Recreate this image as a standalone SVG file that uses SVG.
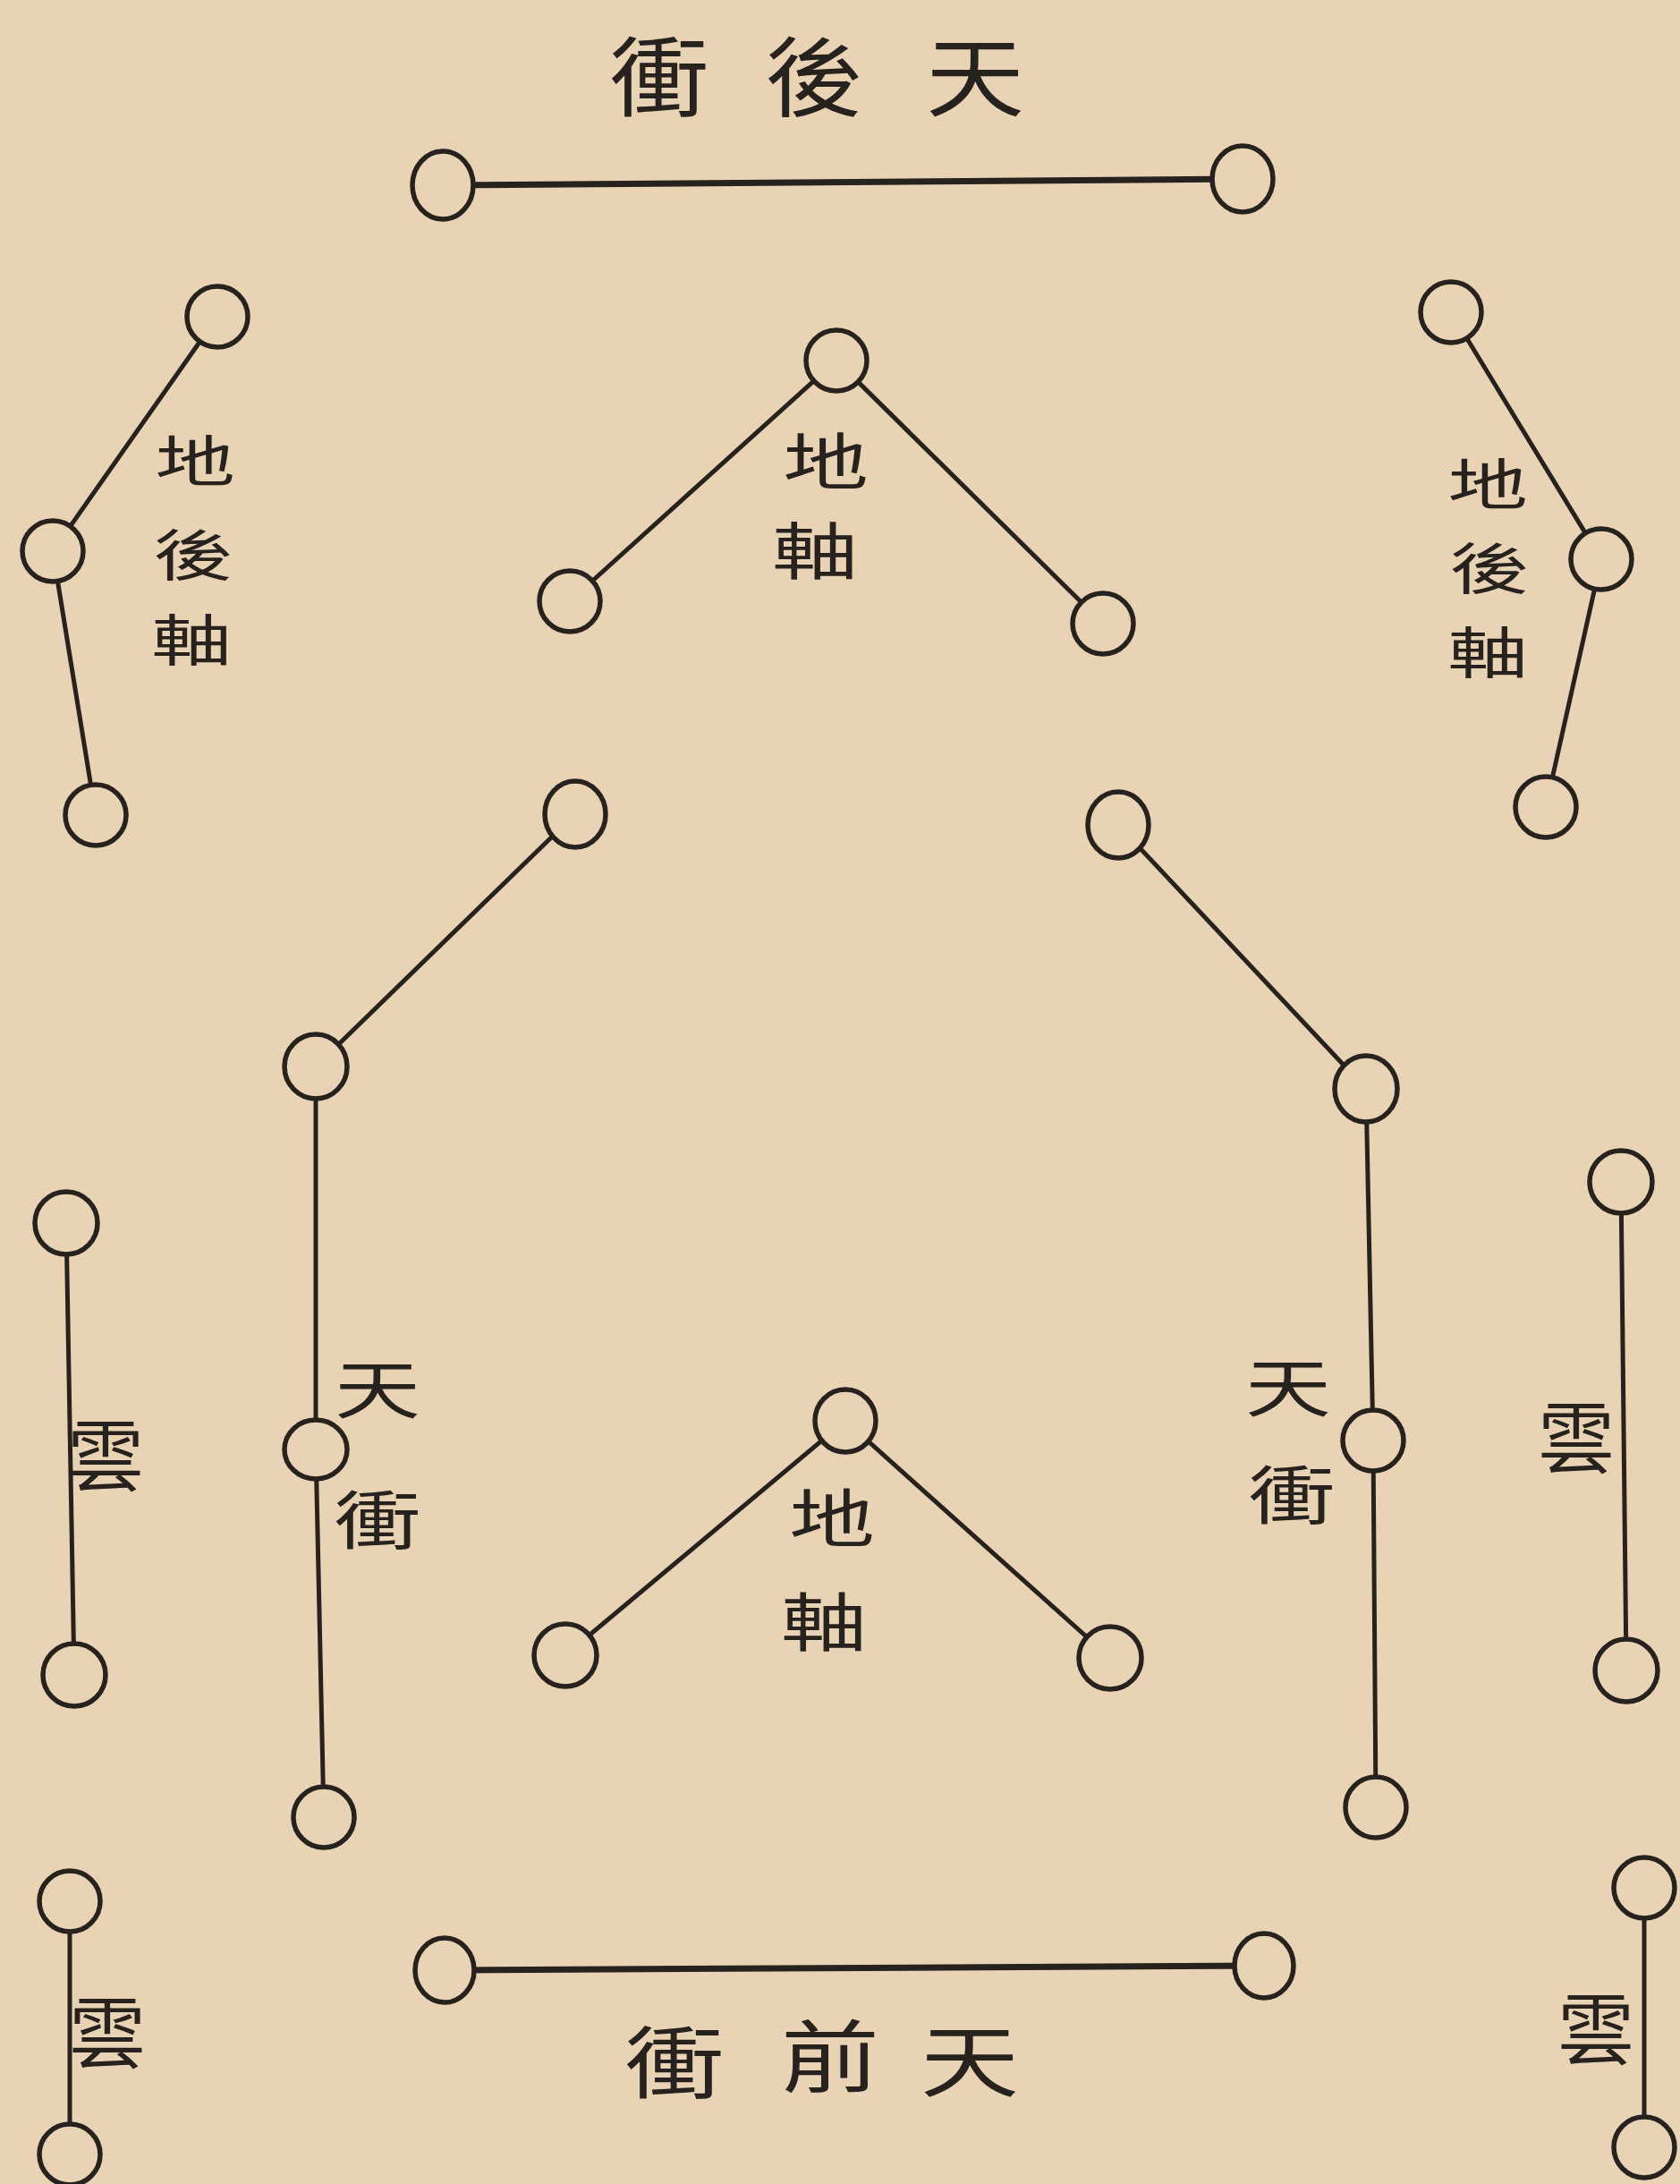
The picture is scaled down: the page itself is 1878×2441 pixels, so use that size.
<svg xmlns="http://www.w3.org/2000/svg" width="1878" height="2441" viewBox="0 0 1878 2441">
<style>
.bg{fill:#e8d4b4}
.edge{stroke:#27221d;stroke-width:5;fill:none;stroke-linecap:round}
.heavy{stroke-width:7}
.node{fill:#e8d4b4;stroke:#27221d;stroke-width:5.5}
.t{font-family:"Noto Sans CJK TC","Noto Sans CJK SC",serif;fill:#27221d;text-anchor:middle;dominant-baseline:central}
.title{font-size:110px}
.lbl{font-size:96px}
.side{font-size:78px}
.yun{font-size:86px}
</style>
<rect class="bg" x="0" y="0" width="1878" height="2441"/>

<g id="connectors">
  <line class="edge heavy" x1="495" y1="207" x2="1389" y2="200"/>
  <polyline class="edge" points="243,354 59,616 107,911"/>
  <polyline class="edge" points="637,672 935,403 1233,697"/>
  <polyline class="edge" points="1622,349 1790,625 1728,902"/>
  <polyline class="edge" points="643,910 353,1192 353,1620 362,2031"/>
  <polyline class="edge" points="1250,922 1527,1217 1535,1610 1538,2020"/>
  <polyline class="edge" points="632,1850 945,1588 1241,1853"/>
  <line class="edge" x1="74" y1="1367" x2="83" y2="1872"/>
  <line class="edge" x1="1812" y1="1321" x2="1818" y2="1867"/>
  <line class="edge heavy" x1="497" y1="2202" x2="1413" y2="2197"/>
  <line class="edge" x1="78" y1="2125" x2="78" y2="2408"/>
  <line class="edge" x1="1838" y1="2110" x2="1838" y2="2400"/>
</g>

<g id="rear-heaven">
  <ellipse class="node" cx="495" cy="207" rx="34" ry="38"/>
  <ellipse class="node" cx="1389" cy="200" rx="34" ry="37"/>
  <g class="t title">
    <text transform="translate(737,80) scale(1,0.88)">衝</text>
    <text transform="translate(910,80) scale(1,0.88)">後</text>
    <text transform="translate(1090,80) scale(1,0.88)">天</text>
  </g>
</g>

<g id="rear-earth-left">
  <circle class="node" cx="243" cy="354" r="34"/>
  <circle class="node" cx="59" cy="616" r="34"/>
  <circle class="node" cx="107" cy="911" r="34"/>
  <g class="t side">
    <text transform="translate(218,512) scale(1.15,0.8)">地</text>
    <text transform="translate(216,617) scale(1.15,0.8)">後</text>
    <text transform="translate(214,712) scale(1.15,0.8)">軸</text>
  </g>
</g>

<g id="earth-axis-top">
  <circle class="node" cx="935" cy="403" r="34"/>
  <circle class="node" cx="637" cy="672" r="34"/>
  <circle class="node" cx="1233" cy="697" r="34"/>
  <g class="t lbl">
    <text transform="translate(923,512) scale(1,0.72)">地</text>
    <text transform="translate(911,612) scale(1,0.72)">軸</text>
  </g>
</g>

<g id="rear-earth-right">
  <circle class="node" cx="1622" cy="349" r="34"/>
  <circle class="node" cx="1790" cy="625" r="34"/>
  <circle class="node" cx="1728" cy="902" r="34"/>
  <g class="t side">
    <text transform="translate(1663,538) scale(1.15,0.8)">地</text>
    <text transform="translate(1665,632) scale(1.15,0.8)">後</text>
    <text transform="translate(1663,726) scale(1.15,0.8)">軸</text>
  </g>
</g>

<g id="heaven-left">
  <ellipse class="node" cx="643" cy="910" rx="34" ry="37"/>
  <ellipse class="node" cx="353" cy="1192" rx="35" ry="36"/>
  <ellipse class="node" cx="353" cy="1620" rx="35" ry="33"/>
  <circle class="node" cx="362" cy="2031" r="34"/>
  <g class="t lbl">
    <text transform="translate(422,1548) scale(1,0.74)">天</text>
    <text transform="translate(422,1694) scale(1,0.74)">衝</text>
  </g>
</g>

<g id="heaven-right">
  <ellipse class="node" cx="1250" cy="922" rx="34" ry="37"/>
  <ellipse class="node" cx="1527" cy="1217" rx="35" ry="37"/>
  <circle class="node" cx="1535" cy="1610" r="34"/>
  <circle class="node" cx="1538" cy="2020" r="34"/>
  <g class="t lbl">
    <text transform="translate(1440,1546) scale(1,0.74)">天</text>
    <text transform="translate(1444,1666) scale(1,0.74)">衝</text>
  </g>
</g>

<g id="earth-axis-bottom">
  <ellipse class="node" cx="945" cy="1588" rx="34" ry="35"/>
  <circle class="node" cx="632" cy="1850" r="35"/>
  <circle class="node" cx="1241" cy="1853" r="35"/>
  <g class="t lbl">
    <text transform="translate(930,1692) scale(1,0.74)">地</text>
    <text transform="translate(921,1808) scale(1,0.74)">軸</text>
  </g>
</g>

<g id="cloud-left">
  <circle class="node" cx="74" cy="1367" r="35"/>
  <circle class="node" cx="83" cy="1872" r="35"/>
  <text class="t yun" x="118" y="1622">雲</text>
</g>

<g id="cloud-right">
  <circle class="node" cx="1812" cy="1321" r="35"/>
  <circle class="node" cx="1818" cy="1867" r="35"/>
  <text class="t yun" x="1762" y="1602">雲</text>
</g>

<g id="front-heaven">
  <ellipse class="node" cx="497" cy="2202" rx="33" ry="36"/>
  <ellipse class="node" cx="1413" cy="2197" rx="33" ry="36"/>
  <g class="t title">
    <text transform="translate(754,2300) scale(1,0.8)">衝</text>
    <text transform="translate(928,2293) scale(1,0.8)">前</text>
    <text transform="translate(1084,2298) scale(1,0.8)">天</text>
  </g>
</g>

<g id="cloud-bottom-left">
  <circle class="node" cx="78" cy="2125" r="34"/>
  <circle class="node" cx="78" cy="2408" r="34"/>
  <text class="t yun" x="120" y="2267">雲</text>
</g>

<g id="cloud-bottom-right">
  <circle class="node" cx="1838" cy="2110" r="34"/>
  <circle class="node" cx="1838" cy="2400" r="34"/>
  <text class="t yun" x="1784" y="2263">雲</text>
</g>
</svg>
